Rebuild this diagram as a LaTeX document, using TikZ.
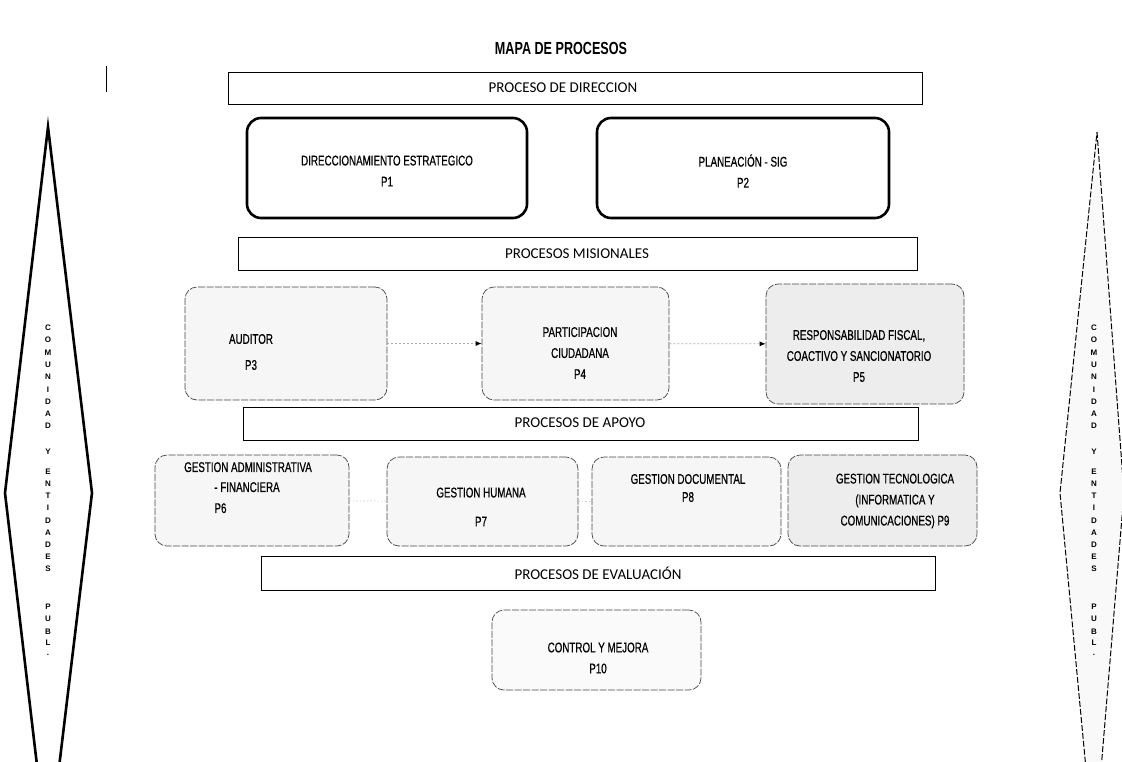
\documentclass[tikz,border=0pt]{standalone}
\usepackage{fontspec}
\setmainfont{Liberation Sans}
\newfontfamily\narrowf[FakeStretch=0.70,FakeBold=0.6]{Liberation Sans}
\newfontfamily\titlef[FakeStretch=0.72]{Liberation Sans}
\newfontfamily\barf{Carlito}
\usetikzlibrary{arrows.meta}
\begin{document}
\begin{tikzpicture}[x=1pt,y=-1pt,
  procA/.style={draw=black, line width=2.6pt, rounded corners=14pt, fill=white, inner sep=0pt},
  procB/.style={draw=gray!55!black, line width=0.7pt, rounded corners=12pt, fill=gray!7, inner sep=0pt, dash pattern=on 7pt off 1.5pt},
  procC/.style={procB, fill=gray!14},
  barbox/.style={draw=black, line width=0.8pt, fill=white, inner sep=0pt},
  lbl/.style={font=\narrowf\fontsize{14}{21}\selectfont, align=center, inner sep=0pt},
  barlbl/.style={font=\barf\fontsize{15}{16}\selectfont, inner sep=0pt},
  conn/.style={draw=gray!65, line width=0.8pt, dash pattern=on 2pt off 2pt, -{Latex[length=6pt,width=5pt,color=black]}},
  faint/.style={draw=gray!45, line width=0.6pt, dash pattern=on 1.5pt off 2pt},
  vlet/.style={font=\bfseries\fontsize{8}{8}\selectfont, inner sep=0pt}
]
\useasboundingbox (0,0) rectangle (1122,761);
\begin{scope}
\clip (0,0) rectangle (1122,761);
% title
\node[font=\titlef\bfseries\fontsize{17.5}{20}\selectfont, inner sep=0pt] (title) at (561,48) {MAPA DE PROCESOS};
% small vertical mark
\draw[line width=1pt] (106,66) -- (106,92);
% side diamonds
\draw[line width=2.6pt, line join=miter, fill=white] (48,127) -- (92,493) -- (48,859) -- (5,493) -- cycle;
\draw[line width=1pt, dash pattern=on 6pt off 2pt, fill=gray!5] (1097,132) -- (1124,493) -- (1094,854) -- (1060,493) -- cycle;
\foreach \l/\yy in {C/328,O/340,M/353,U/365,N/377,I/390,D/402,A/414,D/426,Y/452,E/472,N/484,T/496,I/508,D/521,A/533,D/545,E/557,S/569,P/607,U/619,B/632,L/643,./655}{
  \node[vlet] at (48,\yy) {\l};
  \node[vlet] at (1094,\yy) {\l};
}
% bars
\node[barbox, minimum width=694pt, minimum height=32pt] (bar1) at (575,88) {};
\node[barlbl] at (563,88) {PROCESO DE DIRECCION};
\node[barbox, minimum width=679pt, minimum height=33pt] (bar2) at (577.5,253.5) {};
\node[barlbl] at (577,254) {PROCESOS MISIONALES};
\node[barbox, minimum width=675pt, minimum height=33pt] (bar3) at (580.5,423.5) {};
\node[barlbl] at (580,423) {PROCESOS DE APOYO};
\node[barbox, minimum width=674pt, minimum height=34pt] (bar4) at (598,573) {};
\node[barlbl] at (598,573) {PROCESOS DE EVALUACIÓN};
% direction boxes
\node[procA, minimum width=280pt, minimum height=100pt] (p1) at (387,168) {};
\node[lbl] at (387,171) {DIRECCIONAMIENTO ESTRATEGICO\\P1};
\node[procA, minimum width=292pt, minimum height=100pt] (p2) at (743,168) {};
\node[lbl] at (743,171) {PLANEACIÓN - SIG\\P2};
% misional boxes
\node[procB, minimum width=202pt, minimum height=113pt] (p3) at (286,343.5) {};
\node[lbl, font=\narrowf\fontsize{14}{26}\selectfont] at (251,352) {AUDITOR\\P3};
\node[procB, minimum width=187pt, minimum height=113pt] (p4) at (575.5,343.5) {};
\node[lbl] at (580,353) {PARTICIPACION\\CIUDADANA\\P4};
\node[procC, minimum width=198pt, minimum height=120pt] (p5) at (865,344) {};
\node[lbl] at (859,356) {RESPONSABILIDAD FISCAL,\\COACTIVO Y SANCIONATORIO\\P5};
\draw[conn] (p3) -- (p4);
\draw[conn] (p4) -- (p5);
% support boxes
\node[procB, minimum width=194pt, minimum height=91pt] (p6) at (252,500.5) {};
\node[lbl, anchor=north] at (248,462) {GESTION ADMINISTRATIVA\\[-1pt]\hspace*{-2pt}- FINANCIERA\\\hspace*{-55pt}P6};
\node[procB, minimum width=191pt, minimum height=89pt] (p7) at (482.5,501.5) {};
\node[lbl, font=\narrowf\fontsize{14}{29}\selectfont] at (481,507) {GESTION HUMANA\\P7};
\node[procB, minimum width=189pt, minimum height=89pt] (p8) at (686.5,501.5) {};
\node[lbl, font=\narrowf\fontsize{14}{18}\selectfont] at (688,488) {GESTION DOCUMENTAL\\P8};
\node[procC, minimum width=189pt, minimum height=91pt] (p9) at (882.5,500.5) {};
\node[lbl] at (895,501) {GESTION TECNOLOGICA\\(INFORMATICA Y\\COMUNICACIONES) P9};
\draw[faint] (p6) -- (p7);
\draw[faint] (p7) -- (p8);
\draw[faint] (p8) -- (p9);
% evaluation box
\node[procB, fill=gray!4, minimum width=209pt, minimum height=80pt] (p10) at (596.5,650) {};
\node[lbl] at (598,658) {CONTROL Y MEJORA\\P10};
\end{scope}
\end{tikzpicture}
\end{document}
